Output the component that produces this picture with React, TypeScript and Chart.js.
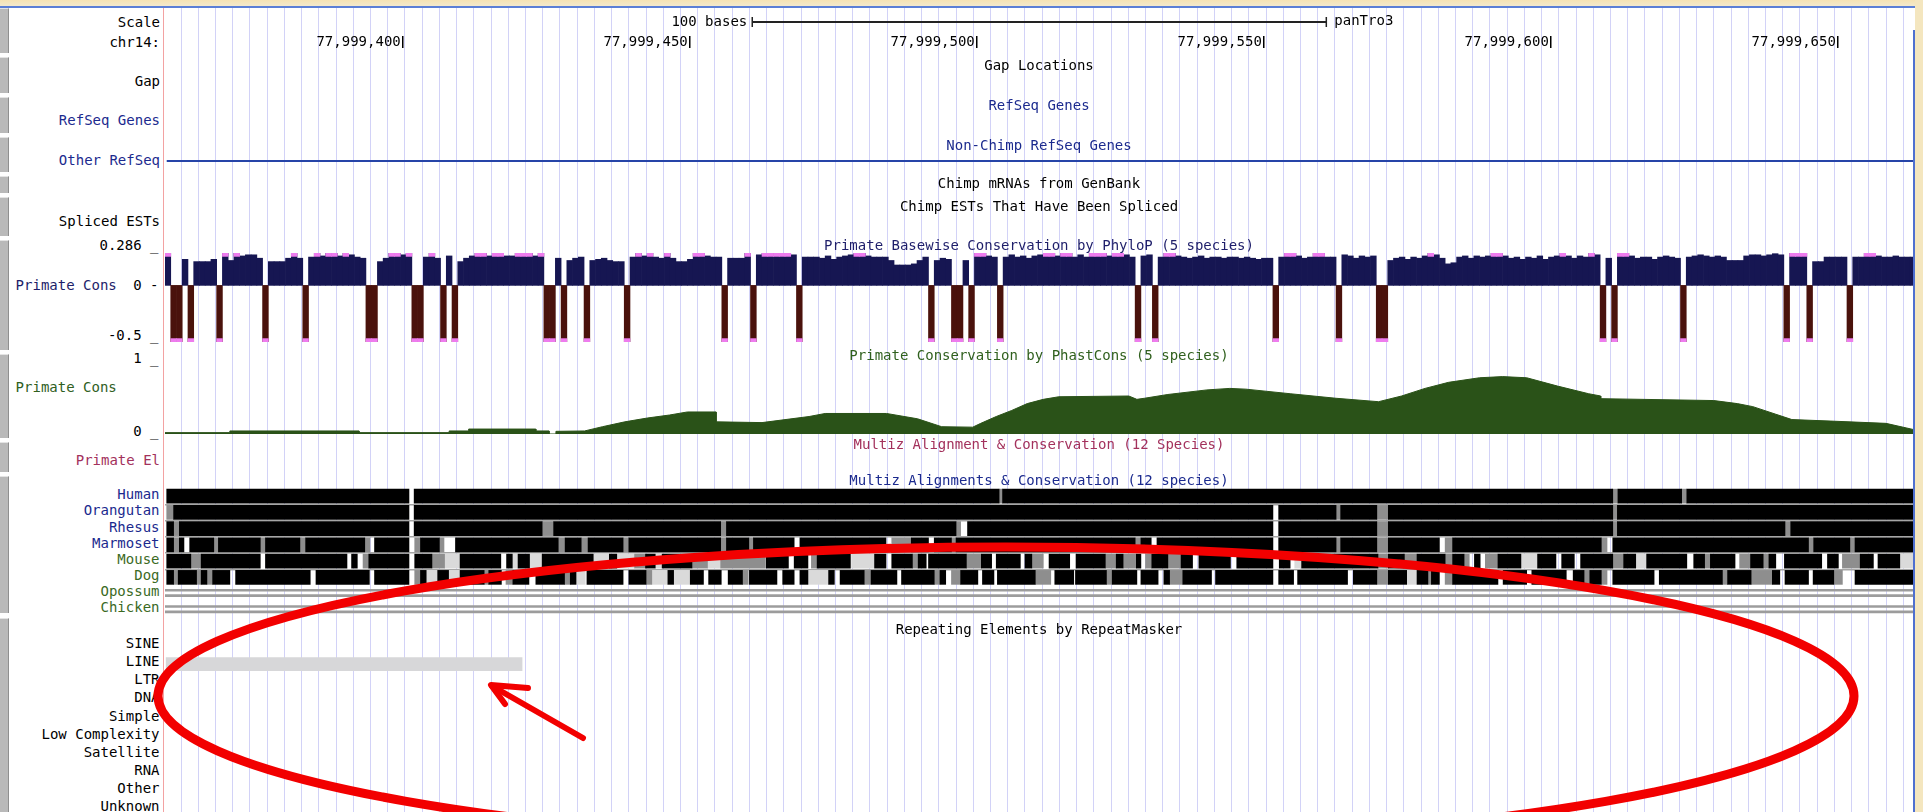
import React, { useEffect, useRef } from 'react';
import { Chart, registerables } from 'chart.js';

Chart.register(...registerables);

// ======================= DATA =======================
const CHROM_LABEL = 'chr14:';
const ASSEMBLY = 'panTro3';
const START = 77999359; // genome position of base offset 0
const VIEW_BASES = 304.5; // bases visible in the window
const RULER_TICKS = [77999400, 77999450, 77999500, 77999550, 77999600, 77999650];
const SCALE_BAR_FROM = 102.3; // base offset where the scale bar starts
const SCALE_BAR_BASES = 100;
const GUIDE_FIRST = 2.8; // first guideline (base offset)
const GUIDE_STEP = 3; // bases between guidelines

// PhyloP (5 species) per-base runs: [fromBase, toBase, value]
const PHYLOP_MIN = -0.5;
const PHYLOP_MAX = 0.286;
const PHYLOP_RUNS: [number, number, number][] = [
  [0, 0, 0.29], [1, 2, -0.5], [3, 3, 0.23], [4, 4, -0.5], [5, 7, 0.21], [8, 8, 0.23], [9, 9, -0.5],
  [10, 10, 0.29], [11, 11, 0.22], [12, 12, 0.29], [13, 13, 0.26], [14, 15, 0.27], [16, 16, 0.24], [17, 17, -0.5],
  [18, 20, 0.21], [21, 21, 0.24], [22, 22, 0.29], [23, 23, 0.24], [24, 24, -0.5],
  [25, 25, 0.25], [26, 26, 0.29], [27, 27, 0.26], [28, 29, 0.29], [30, 30, 0.26], [31, 31, 0.29], [32, 32, 0.27],
  [33, 33, 0.25], [34, 34, 0.24], [35, 36, -0.5],
  [37, 37, 0.21], [38, 38, 0.24], [39, 40, 0.29], [41, 41, 0.27], [42, 42, 0.29], [43, 44, -0.5],
  [45, 45, 0.25], [46, 46, 0.29], [47, 47, 0.24], [48, 48, -0.5], [49, 49, 0.26], [50, 50, -0.5],
  [51, 51, 0.21], [52, 52, 0.24], [53, 53, 0.26], [54, 55, 0.29], [56, 56, 0.26], [57, 58, 0.29], [59, 60, 0.26],
  [61, 63, 0.29], [64, 64, 0.26], [65, 65, 0.29], [66, 67, -0.5],
  [68, 68, 0.24], [69, 69, -0.5], [70, 70, 0.22], [71, 71, 0.24], [72, 72, 0.25], [73, 73, -0.5],
  [74, 74, 0.22], [75, 75, 0.23], [76, 76, 0.24], [77, 77, 0.22], [78, 79, 0.21], [80, 80, -0.5],
  [81, 81, 0.25], [82, 82, 0.29], [83, 83, 0.26], [84, 84, 0.29], [85, 85, 0.25], [86, 86, 0.24], [87, 87, 0.29],
  [88, 88, 0.24], [89, 90, 0.21], [91, 91, 0.23], [92, 93, 0.29], [94, 94, 0.26], [95, 96, 0.25], [97, 97, -0.5],
  [98, 100, 0.24], [101, 101, 0.29], [102, 102, -0.5], [103, 103, 0.27], [104, 108, 0.29], [109, 109, 0.27], [110, 110, -0.5],
  [111, 113, 0.25], [114, 114, 0.24], [115, 115, 0.26], [116, 116, 0.23], [117, 117, 0.25], [118, 118, 0.26],
  [119, 119, 0.27], [120, 121, 0.29], [122, 122, 0.26], [123, 125, 0.25], [126, 126, 0.22], [127, 129, 0.18],
  [130, 130, 0.19], [131, 131, 0.22], [132, 132, 0.25], [133, 133, -0.5],
  [134, 134, 0.22], [135, 135, 0.24], [136, 136, 0.23], [137, 138, -0.5], [139, 139, 0.22], [140, 140, -0.5],
  [141, 142, 0.29], [143, 143, 0.26], [144, 144, 0.25], [145, 145, -0.5],
  [146, 146, 0.25], [147, 147, 0.27], [148, 148, 0.25], [149, 149, 0.26], [150, 150, 0.24], [151, 151, 0.26],
  [152, 152, 0.27], [153, 154, 0.29], [155, 155, 0.26], [156, 157, 0.29], [158, 158, 0.25], [159, 159, 0.27],
  [160, 160, 0.25], [161, 163, 0.29], [164, 164, 0.26], [165, 166, 0.29], [167, 167, 0.27], [168, 168, 0.25], [169, 169, -0.5],
  [170, 170, 0.26], [171, 171, 0.27], [172, 172, -0.5], [173, 173, 0.25], [174, 175, 0.29],
  [176, 176, 0.26], [177, 177, 0.25], [178, 178, 0.24], [179, 179, 0.25], [180, 180, 0.26], [181, 181, 0.24],
  [182, 183, 0.25], [184, 184, 0.24], [185, 186, 0.25], [187, 187, 0.24], [188, 188, 0.25], [189, 189, 0.24],
  [190, 190, 0.23], [191, 192, 0.24], [193, 193, -0.5],
  [194, 194, 0.25], [195, 196, 0.29], [197, 197, 0.26], [198, 198, 0.24], [199, 199, 0.25], [200, 201, 0.29],
  [202, 203, 0.25], [204, 204, -0.5],
  [205, 205, 0.27], [206, 206, 0.26], [207, 207, 0.24], [208, 208, 0.26], [209, 209, 0.25], [210, 210, 0.26], [211, 212, -0.5],
  [213, 213, 0.22], [214, 214, 0.24], [215, 215, 0.25], [216, 216, 0.23], [217, 217, 0.25], [218, 218, 0.24],
  [219, 219, 0.26], [220, 220, 0.29], [221, 221, 0.27], [222, 222, 0.24], [223, 223, 0.19], [224, 224, 0.2],
  [225, 225, 0.25], [226, 226, 0.26], [227, 227, 0.24], [228, 228, 0.26], [229, 229, 0.25], [230, 230, 0.26],
  [231, 232, 0.29], [233, 233, 0.26], [234, 234, 0.24], [235, 235, 0.25], [236, 236, 0.23], [237, 237, 0.25],
  [238, 238, 0.24], [239, 239, 0.26], [240, 240, 0.23], [241, 241, 0.25], [242, 242, 0.26], [243, 243, 0.29],
  [244, 244, 0.26], [245, 245, 0.24], [246, 246, 0.26], [247, 247, 0.25], [248, 248, 0.29], [249, 249, 0.27], [250, 250, -0.5],
  [251, 251, 0.24], [252, 252, -0.5], [253, 254, 0.29], [255, 255, 0.26], [256, 256, 0.24], [257, 258, 0.25],
  [259, 259, 0.23], [260, 260, 0.25], [261, 261, 0.26], [262, 262, 0.25], [263, 263, 0.24], [264, 264, -0.5],
  [265, 265, 0.25], [266, 266, 0.26], [267, 267, 0.27], [268, 268, 0.26], [269, 269, 0.25], [270, 270, 0.26],
  [271, 271, 0.25], [272, 274, 0.22], [275, 275, 0.26], [276, 277, 0.27], [278, 278, 0.26], [279, 279, 0.27],
  [280, 280, 0.28], [281, 281, 0.27], [282, 282, -0.5],
  [283, 285, 0.29], [286, 286, -0.5], [287, 288, 0.21], [289, 292, 0.25], [293, 293, -0.5], [294, 295, 0.25],
  [296, 297, 0.29], [298, 298, 0.26], [299, 300, 0.25], [301, 301, 0.26], [302, 304, 0.25],
];

// PhastCons (5 species): [baseOffset, score]
const PHASTCONS_POINTS: [number, number][] = [
  [0, 0.018], [11.3, 0.018], [11.3, 0.04], [33.8, 0.04], [33.8, 0.018], [49.5, 0.018], [49.5, 0.04],
  [52.9, 0.04], [52.9, 0.065], [64.6, 0.065], [64.6, 0.04], [66.9, 0.04], [66.9, 0], [68.1, 0], [68.1, 0.035],
  [73.1, 0.04], [76.2, 0.096], [80.1, 0.16], [84, 0.21], [87.9, 0.25], [91, 0.29], [96, 0.29], [96, 0.16],
  [104, 0.15], [112.2, 0.23], [115, 0.27], [125.7, 0.27], [131.1, 0.2], [135.3, 0.096], [140.7, 0.09],
  [142.1, 0.14], [144.8, 0.23], [147.5, 0.31], [150.2, 0.4], [153, 0.456], [155.7, 0.49], [167.9, 0.5],
  [169.3, 0.456], [170.6, 0.47], [174.7, 0.52], [181.5, 0.58], [185.5, 0.6], [188.3, 0.59], [196, 0.53],
  [204, 0.47], [211.4, 0.425], [215.4, 0.5], [219.5, 0.6], [223.6, 0.68], [229, 0.74], [233, 0.755],
  [237.2, 0.74], [242.6, 0.63], [248, 0.53], [250.1, 0.5], [250.1, 0.465], [269.8, 0.44], [273.9, 0.4],
  [276.6, 0.36], [280.6, 0.26], [283.4, 0.19], [290.2, 0.17], [299.8, 0.14], [304.5, 0.06],
];

// Non-chimp RefSeq gene spanning the window (base offsets)
const OTHER_REFSEQ_SPAN: [number, number] = [0.3, 304.5];

// Multiz alignment blocks: [fromBase, toBase, shade] k = aligned, g = partly, l = weak
type Block = [number, number, 'k' | 'g' | 'l'];
const SPECIES = ['Human', 'Orangutan', 'Rhesus', 'Marmoset', 'Mouse', 'Dog', 'Opossum', 'Chicken'];
const UNALIGNED_SPECIES = ['Opossum', 'Chicken'];
const HUMAN: Block[] = [
  [0.3, 42.5, 'k'], [43.4, 145.3, 'k'], [145.3, 145.9, 'g'], [145.9, 252.2, 'k'], [252.2, 253.1, 'g'],
  [253.1, 264.2, 'k'], [264.2, 265.1, 'g'], [265.1, 304.5, 'k'],
];
const ORANGUTAN: Block[] = [
  [0.3, 1.5, 'g'], [1.5, 42.5, 'k'], [43.4, 193, 'k'], [194, 204, 'k'], [204, 204.8, 'g'], [204.8, 211.1, 'k'],
  [211.1, 213.1, 'g'], [213.1, 252.2, 'k'], [252.2, 253, 'g'], [253, 304.5, 'k'],
];
const RHESUS: Block[] = [
  [0.3, 1.5, 'k'], [1.5, 2.5, 'g'], [2.5, 42.5, 'k'], [43.4, 65.7, 'k'], [65.7, 67.7, 'g'], [67.7, 96.8, 'k'],
  [96.8, 97.8, 'g'], [97.8, 137.8, 'k'], [137.8, 138.6, 'g'], [139.8, 193, 'k'], [194, 211.1, 'k'],
  [211.1, 213.1, 'g'], [213.1, 252.2, 'k'], [252.2, 253, 'g'], [253, 282.2, 'k'], [282.2, 283.2, 'g'], [283.2, 304.5, 'k'],
];
const MARMOSET: Block[] = [
  [0.3, 1.5, 'k'], [1.5, 2.5, 'g'], [2.5, 3.3, 'k'], [4.3, 8.5, 'k'], [8.5, 9.3, 'g'], [9.3, 16.6, 'k'],
  [16.6, 17.5, 'g'], [17.5, 23.5, 'k'], [23.5, 24.5, 'g'], [24.5, 34.8, 'k'], [34.8, 35.7, 'g'], [36.5, 42.5, 'k'],
  [43.5, 44.5, 'g'], [44.5, 47.8, 'k'], [47.8, 48.6, 'g'], [50.6, 68.5, 'k'], [68.5, 69.7, 'g'], [69.7, 72.5, 'k'],
  [72.5, 73.7, 'g'], [73.7, 79.8, 'k'], [79.8, 80.8, 'g'], [80.8, 96.8, 'k'], [96.8, 97.8, 'g'], [97.8, 101.7, 'k'],
  [101.7, 102.5, 'g'], [102.5, 109.6, 'k'], [110.6, 125.6, 'k'], [126.6, 130, 'g'], [130, 133, 'k'], [134, 137, 'k'],
  [137, 137.8, 'g'], [137.8, 169, 'k'], [169, 170, 'g'], [170, 171.8, 'k'], [172.8, 193, 'k'], [194, 204, 'k'],
  [204, 204.8, 'g'], [204.8, 211.1, 'k'], [211.1, 213.1, 'g'], [213.1, 222, 'k'], [223, 224.3, 'g'],
  [224.3, 250.2, 'k'], [250.2, 251.2, 'g'], [252.2, 286.3, 'k'], [286.3, 287.2, 'g'], [287.2, 293.5, 'k'],
  [293.5, 294.4, 'g'], [294.4, 304.5, 'k'],
];
const MOUSE: Block[] = [
  [0.3, 4.5, 'k'], [4.5, 6.3, 'g'], [6.3, 16.6, 'k'], [17.5, 31.7, 'k'], [32.5, 33.5, 'k'], [34.5, 35.5, 'g'],
  [35.5, 42.5, 'k'], [43.5, 46.5, 'k'], [46.5, 48.7, 'g'], [48.7, 51.4, 'l'], [51.4, 58.5, 'k'], [59.5, 60.5, 'k'],
  [60.5, 61.5, 'l'], [61.5, 63.5, 'k'], [63.5, 65.7, 'l'], [65.7, 74.6, 'k'], [74.6, 77.4, 'l'], [77.4, 78.7, 'k'],
  [78.7, 81.8, 'l'], [81.8, 83.7, 'g'], [83.7, 85.4, 'k'], [85.4, 86.6, 'l'], [86.6, 91.8, 'k'], [91.8, 94.5, 'g'],
  [94.5, 96.8, 'l'], [96.8, 104.5, 'g'], [104.7, 108.6, 'k'], [109.6, 112, 'k'], [112.6, 113.6, 'g'],
  [113.6, 119.4, 'k'], [119.6, 123.5, 'l'], [123.6, 125.6, 'k'], [126.6, 130.2, 'k'], [130.2, 131.2, 'g'],
  [131.2, 132.6, 'k'], [133, 139.6, 'k'], [139.6, 142.2, 'g'], [142.2, 144, 'k'], [144.8, 149, 'k'],
  [149.8, 151, 'k'], [151, 153, 'g'], [154, 157.6, 'k'], [158.7, 163.8, 'k'], [163.8, 165.7, 'g'],
  [165.7, 166.9, 'k'], [166.9, 169.2, 'g'], [169.2, 170, 'k'], [170.8, 171.9, 'g'], [171.9, 174.7, 'k'],
  [174.7, 177, 'g'], [177, 179, 'k'], [180.1, 185.6, 'k'], [186.7, 193, 'k'], [194.1, 196, 'k'], [196.8, 198, 'l'],
  [198, 211.3, 'k'], [211.3, 213.1, 'g'], [213.1, 215.9, 'k'], [215.9, 218.1, 'g'], [218.1, 223, 'k'],
  [223, 224.3, 'g'], [224.3, 226.3, 'k'], [226.3, 227.2, 'g'], [228.1, 229.1, 'k'], [230, 232.2, 'g'],
  [232.2, 236.2, 'k'], [236.2, 239.1, 'l'], [239.1, 242.3, 'k'], [243.3, 245.5, 'k'], [246.6, 252.2, 'k'],
  [252.2, 254.1, 'g'], [254.1, 256.2, 'k'], [256.2, 258.1, 'l'], [258.1, 265.1, 'k'], [266.3, 268.2, 'k'],
  [268.2, 269.2, 'g'], [269.2, 273.5, 'k'], [274.3, 276.2, 'g'], [276.2, 278.4, 'k'], [278.4, 279.4, 'g'],
  [279.4, 280.6, 'k'], [282.1, 288.6, 'k'], [289.6, 291.5, 'k'], [292.2, 295.3, 'g'], [295.3, 297.6, 'k'],
  [298.4, 302.2, 'k'], [302.2, 304.5, 'l'],
];
const DOG: Block[] = [
  [0.3, 1.5, 'k'], [1.5, 2.3, 'g'], [2.3, 5.5, 'k'], [5.5, 6.3, 'g'], [6.3, 7.3, 'k'], [7.3, 8.3, 'g'],
  [8.3, 11.3, 'k'], [12.3, 25.3, 'k'], [26.3, 35.6, 'k'], [36.5, 42.5, 'k'], [43.5, 44.5, 'g'], [44.5, 45.5, 'k'],
  [45.5, 47.5, 'l'], [47.5, 49.4, 'k'], [49.4, 51.4, 'l'], [51.4, 55.6, 'k'], [55.6, 56.4, 'g'], [56.4, 58.6, 'k'],
  [59.4, 60.6, 'g'], [60.6, 63.4, 'k'], [64.6, 69.6, 'k'], [69.6, 70.6, 'g'], [70.6, 71.6, 'k'], [71.6, 73.2, 'l'],
  [73.5, 79.8, 'k'], [80.8, 83.8, 'k'], [83.8, 84.8, 'g'], [84.8, 87.6, 'l'], [87.6, 88.6, 'k'], [88.6, 91.5, 'l'],
  [91.5, 93.8, 'k'], [94.7, 96.9, 'k'], [98.1, 100.6, 'k'], [100.6, 101.6, 'g'], [101.8, 106.6, 'k'],
  [107.6, 109.6, 'k'], [110.6, 112, 'k'], [112, 115.6, 'l'], [115.6, 116.6, 'k'], [117.6, 121.8, 'k'],
  [121.8, 123, 'g'], [123, 127.5, 'k'], [128.3, 134, 'k'], [134, 135, 'g'], [135, 136, 'k'], [137, 138.6, 'g'],
  [138.6, 141.6, 'k'], [142.4, 144.4, 'k'], [145, 151.6, 'k'], [151.6, 154.3, 'g'], [155, 158.3, 'k'],
  [158.6, 164, 'k'], [164, 165, 'g'], [165, 169.3, 'k'], [170, 173, 'k'], [174, 175, 'k'], [175, 177.3, 'g'],
  [177.3, 182.3, 'k'], [183, 193, 'k'], [194, 196.6, 'k'], [197.3, 206, 'k'], [207, 211.1, 'k'],
  [211.1, 213.1, 'g'], [213.1, 216.3, 'k'], [216.3, 218.1, 'l'], [218.1, 220, 'k'], [220, 220.6, 'g'],
  [220.6, 222, 'k'], [223, 224.3, 'g'], [224.3, 232.2, 'k'], [233.1, 237.2, 'k'], [238.1, 244.1, 'k'],
  [245.3, 247.2, 'k'], [247.2, 248.2, 'g'], [248.2, 250.2, 'k'], [250.2, 251.2, 'g'], [252.2, 259.4, 'k'],
  [260.3, 271.3, 'k'], [271.3, 272.2, 'g'], [272.2, 276.3, 'k'], [276.3, 280, 'g'], [280, 281.3, 'k'],
  [282.2, 286.3, 'k'], [287.1, 290.7, 'k'], [290.7, 292.2, 'g'], [294.4, 304.5, 'k'],
];
const MULTIZ_BLOCKS: Record<string, Block[]> = {
  Human: HUMAN, Orangutan: ORANGUTAN, Rhesus: RHESUS, Marmoset: MARMOSET, Mouse: MOUSE, Dog: DOG,
};

// RepeatMasker
const REPEAT_CLASSES = ['SINE', 'LINE', 'LTR', 'DNA', 'Simple', 'Low Complexity', 'Satellite', 'RNA', 'Other', 'Unknown'];
const REPEATS: [string, number, number][] = [['LINE', 0.2, 62.2]];

// ======================= LAYOUT / STYLE =======================
const W = 1923;
const H = 812;
const DATA_LEFT = 165;
const DATA_RIGHT = 1913;
const DATA_W = DATA_RIGHT - DATA_LEFT;
const FONT = '"DejaVu Sans Mono", monospace';
const NAVY = '#1b2a8e';
const DARKNAVY = '#1e1e6a';
const GREEN = '#30601e';
const MAROON = '#a3315c';

const PHYLO_BOX = { top: 253, height: 89 };
const PHAST_BOX = { top: 358, height: 76 };
const MULTIZ_BOX = { top: 488, height: 130 };
const REPEAT_BOX = { top: 637, height: 181 };
const REFSEQ_BOX = { top: 155, height: 12 };

const fmt = (n: number) => String(n).replace(/\B(?=(\d{3})+(?!\d))/g, ',');

const rulerPlugin = {
  id: 'ruler',
  afterDraw(chart: any) {
    const { ctx } = chart;
    const xs = chart.scales.x;
    ctx.save();
    ctx.font = '14px "DejaVu Sans Mono"';
    ctx.fillStyle = '#000';
    ctx.strokeStyle = '#222';
    ctx.textBaseline = 'middle';
    const yBar = 14;
    const x0 = xs.getPixelForValue(SCALE_BAR_FROM);
    const x1 = xs.getPixelForValue(SCALE_BAR_FROM + SCALE_BAR_BASES);
    ctx.lineWidth = 2;
    ctx.beginPath();
    ctx.moveTo(x0, yBar);
    ctx.lineTo(x1, yBar);
    ctx.stroke();
    ctx.lineWidth = 1.5;
    ctx.beginPath();
    ctx.moveTo(x0, yBar - 5);
    ctx.lineTo(x0, yBar + 5);
    ctx.moveTo(x1, yBar - 5);
    ctx.lineTo(x1, yBar + 5);
    ctx.stroke();
    ctx.textAlign = 'right';
    ctx.fillText(`${SCALE_BAR_BASES} bases`, x0 - 5, yBar);
    ctx.textAlign = 'left';
    ctx.fillText(ASSEMBLY, x1 + 8, yBar - 1);
    const yTick = 34;
    RULER_TICKS.forEach((p) => {
      const px = xs.getPixelForValue(p - START + 0.5);
      ctx.fillRect(Math.round(px) - 1, yTick - 6, 1.5, 12);
      ctx.textAlign = 'right';
      ctx.fillText(fmt(p), px - 2.5, yTick);
    });
    ctx.restore();
  },
};

const baseOptions = (scales: any, extra: any = {}) => ({
  responsive: false,
  animation: false,
  events: [],
  layout: { padding: 0 },
  plugins: { legend: { display: false }, tooltip: { enabled: false } },
  scales,
  ...extra,
});

const hiddenX = { type: 'linear', min: 0, max: VIEW_BASES, display: false, offset: false, grid: { offset: false } };
const hiddenY = (min: number, max: number, extra: any = {}) => ({
  type: 'linear', min, max, display: false, offset: false, grid: { offset: false }, ...extra,
});

const GUIDES: number[] = [];
for (let v = GUIDE_FIRST; v < VIEW_BASES; v += GUIDE_STEP) GUIDES.push(v);

export default function App() {
  const bgRef = useRef<HTMLCanvasElement>(null);
  const refseqRef = useRef<HTMLCanvasElement>(null);
  const phyloRef = useRef<HTMLCanvasElement>(null);
  const phastRef = useRef<HTMLCanvasElement>(null);
  const multizRef = useRef<HTMLCanvasElement>(null);
  const repeatRef = useRef<HTMLCanvasElement>(null);

  useEffect(() => {
    document.body.style.margin = '0';
    const charts: Chart[] = [];

    // background guidelines + ruler
    charts.push(
      new Chart(bgRef.current!, {
        type: 'scatter',
        data: { datasets: [] },
        options: baseOptions({
          x: {
            type: 'linear', min: 0, max: VIEW_BASES, display: true, offset: false,
            ticks: { display: false }, border: { display: false },
            grid: { color: '#d2d2f7', lineWidth: 1, drawTicks: false, offset: false },
            afterBuildTicks: (s: any) => { s.ticks = GUIDES.map((v) => ({ value: v })); },
          },
          y: hiddenY(0, 1),
        }),
        plugins: [rulerPlugin],
      } as any)
    );

    // Other RefSeq line
    charts.push(
      new Chart(refseqRef.current!, {
        type: 'line',
        data: {
          datasets: [{
            data: OTHER_REFSEQ_SPAN.map((x) => ({ x, y: 0 })),
            borderColor: '#2644a8', borderWidth: 2, pointRadius: 0,
          }],
        },
        options: baseOptions({ x: hiddenX, y: hiddenY(-1, 1) }),
      } as any)
    );

    // PhyloP
    const phylo: { x: number; y: number }[] = [];
    PHYLOP_RUNS.forEach(([a, b, v]) => { for (let i = a; i <= b; i++) phylo.push({ x: i + 0.5, y: v }); });
    const caps = phylo
      .filter((p) => p.y >= PHYLOP_MAX || p.y <= PHYLOP_MIN)
      .map((p) => ({ x: p.x, y: p.y > 0 ? [PHYLOP_MAX - 0.03, PHYLOP_MAX] : [PHYLOP_MIN, PHYLOP_MIN + 0.03] }));
    charts.push(
      new Chart(phyloRef.current!, {
        type: 'bar',
        data: {
          datasets: [
            { data: caps, backgroundColor: '#ee7cee', grouped: false, categoryPercentage: 1, barPercentage: 1, borderWidth: 0 },
            {
              data: phylo,
              backgroundColor: (c: any) => (c.raw && c.raw.y < 0 ? '#4a120c' : '#161652'),
              grouped: false, categoryPercentage: 1, barPercentage: 1, borderWidth: 0,
            },
          ],
        },
        options: baseOptions({ x: hiddenX, y: hiddenY(PHYLOP_MIN, PHYLOP_MAX) }),
      } as any)
    );

    // PhastCons
    charts.push(
      new Chart(phastRef.current!, {
        type: 'line',
        data: {
          datasets: [{
            data: PHASTCONS_POINTS.map(([x, y]) => ({ x, y })),
            borderColor: '#2a5218', backgroundColor: '#2a5218', borderWidth: 1,
            fill: 'origin', pointRadius: 0, tension: 0,
          }],
        },
        options: baseOptions({ x: hiddenX, y: hiddenY(0, 1) }),
      } as any)
    );

    // Multiz alignments
    const shadeColor: Record<string, string> = { k: '#000000', g: '#8e8e8e', l: '#dadada' };
    const shadeSets = ['k', 'g', 'l'].map((sh) => ({
      data: Object.entries(MULTIZ_BLOCKS).flatMap(([sp, blocks]) =>
        blocks.filter((b) => b[2] === sh).map((b) => ({ y: SPECIES.indexOf(sp), x: [b[0], b[1]] }))
      ),
      backgroundColor: shadeColor[sh], grouped: false, barThickness: 14, borderWidth: 0,
    }));
    const unaligned = {
      data: UNALIGNED_SPECIES.flatMap((sp) => {
        const r = SPECIES.indexOf(sp);
        return [{ y: r - 0.21, x: [0, VIEW_BASES] }, { y: r + 0.12, x: [0, VIEW_BASES] }];
      }),
      backgroundColor: '#9c9c9c', grouped: false, barThickness: 2, borderWidth: 0,
    };
    const aligned = SPECIES.filter((s) => !UNALIGNED_SPECIES.includes(s));
    const separators = aligned.slice(0, -1).map((_, i) => i + 0.5);
    charts.push(
      new Chart(multizRef.current!, {
        type: 'bar',
        data: { datasets: [...shadeSets, unaligned] },
        options: baseOptions(
          {
            x: hiddenX,
            y: {
              type: 'linear', min: -0.5, max: SPECIES.length - 0.5, reverse: true, display: true, offset: false,
              ticks: { display: false }, border: { display: false },
              grid: { color: '#a6a6a6', lineWidth: 1.5, drawTicks: false, offset: false },
              afterBuildTicks: (s: any) => { s.ticks = separators.map((v) => ({ value: v })); },
            },
          },
          { indexAxis: 'y' }
        ),
      } as any)
    );

    // RepeatMasker
    charts.push(
      new Chart(repeatRef.current!, {
        type: 'bar',
        data: {
          datasets: [{
            data: REPEATS.map(([cls, a, b]) => ({ y: REPEAT_CLASSES.indexOf(cls), x: [a, b] })),
            backgroundColor: '#d7d7d9', grouped: false, barThickness: 13, borderWidth: 0,
          }],
        },
        options: baseOptions(
          { x: hiddenX, y: hiddenY(-0.5, REPEAT_CLASSES.length - 0.5, { reverse: true }) },
          { indexAxis: 'y' }
        ),
      } as any)
    );

    return () => charts.forEach((c) => c.destroy());
  }, []);

  const txt = (key: string, text: string, y: number, color: string, align: 'right' | 'left' | 'center', x?: number) => {
    const style: any = {
      position: 'absolute', top: y - 8, height: 16, lineHeight: '16px', whiteSpace: 'pre', color,
      fontFamily: FONT, fontSize: 14,
    };
    if (align === 'right') { style.left = 0; style.width = x ?? 160; style.textAlign = 'right'; }
    else if (align === 'left') { style.left = x ?? 0; }
    else { style.left = DATA_LEFT; style.width = DATA_W; style.textAlign = 'center'; }
    return <div key={key} style={style}>{text}</div>;
  };

  const leftLabels: [string, number, string][] = [
    ['Scale', 22, '#000'], [CHROM_LABEL, 42, '#000'], ['Gap', 81, '#000'], ['RefSeq Genes', 120, NAVY],
    ['Other RefSeq', 160, NAVY], ['Spliced ESTs', 221, '#000'], ['Primate El', 460, MAROON],
  ];
  const axisLabels: [string, number][] = [['0.286 _', 245], ['0 -', 285], ['-0.5 _', 335], ['1 _', 358], ['0 _', 431]];
  const centerTitles: [string, number, string][] = [
    ['Gap Locations', 65, '#000'], ['RefSeq Genes', 105, NAVY], ['Non-Chimp RefSeq Genes', 145, NAVY],
    ['Chimp mRNAs from GenBank', 183, '#000'], ['Chimp ESTs That Have Been Spliced', 206, '#000'],
    ['Primate Basewise Conservation by PhyloP (5 species)', 245, DARKNAVY],
    ['Primate Conservation by PhastCons (5 species)', 355, GREEN],
    ['Multiz Alignment & Conservation (12 Species)', 444, MAROON],
    ['Multiz Alignments & Conservation (12 species)', 480, NAVY],
    ['Repeating Elements by RepeatMasker', 629, '#000'],
  ];
  const speciesColor = (s: string) => (['Mouse', 'Dog', 'Opossum', 'Chicken'].includes(s) ? '#3b6a1f' : NAVY);
  const buttons: [number, number][] = [
    [8, 53], [57, 93], [97, 133], [137, 172], [176, 193], [197, 236], [240, 350], [354, 438], [442, 472], [476, 613], [618, 812],
  ];

  const canvasStyle = (top: number): any => ({ position: 'absolute', left: DATA_LEFT, top });

  return (
    <div style={{ position: 'fixed', left: 0, top: 0, width: W, height: H, overflow: 'hidden', background: '#fff' }}>
      {/* top strip */}
      <div style={{ position: 'absolute', left: 0, top: 0, width: W, height: 6, background: 'linear-gradient(#f6e3b4,#f3e9cc)' }} />
      <div style={{ position: 'absolute', left: 0, top: 6, width: W, height: 2, background: '#5b7fd6' }} />
      {/* right strip */}
      <div style={{ position: 'absolute', left: 1915, top: 0, width: 8, height: H, background: '#f4e6bf' }} />
      <div style={{ position: 'absolute', left: 1913, top: 30, width: 2, height: H - 30, background: '#4f70d0' }} />
      {/* left buttons */}
      {buttons.map(([a, b], i) => (
        <div key={'b' + i} style={{
          position: 'absolute', left: 0, top: a, width: 9, height: b - a, background: '#b9b9b9',
          borderRight: '1px solid #8f8f8f', borderTop: '1px solid #e4e4e4', boxSizing: 'border-box',
        }} />
      ))}
      {/* red separator of label column */}
      <div style={{ position: 'absolute', left: 163, top: 8, width: 1, height: H - 8, background: '#f3a2a2' }} />

      <canvas ref={bgRef} width={DATA_W} height={H - 8} style={canvasStyle(8)} />
      <canvas ref={refseqRef} width={DATA_W} height={REFSEQ_BOX.height} style={canvasStyle(REFSEQ_BOX.top)} />
      <canvas ref={phyloRef} width={DATA_W} height={PHYLO_BOX.height} style={canvasStyle(PHYLO_BOX.top)} />
      <canvas ref={phastRef} width={DATA_W} height={PHAST_BOX.height} style={canvasStyle(PHAST_BOX.top)} />
      <canvas ref={multizRef} width={DATA_W} height={MULTIZ_BOX.height} style={canvasStyle(MULTIZ_BOX.top)} />
      <canvas ref={repeatRef} width={DATA_W} height={REPEAT_BOX.height} style={canvasStyle(REPEAT_BOX.top)} />

      {leftLabels.map(([t, y, c], i) => txt('l' + i, t, y, c, 'right', 160))}
      {axisLabels.map(([t, y], i) => txt('a' + i, t, y, '#000', 'right', 158.5))}
      {txt('pc1', 'Primate Cons', 285, DARKNAVY, 'left', 15.6)}
      {txt('pc2', 'Primate Cons', 386.5, GREEN, 'left', 15.6)}
      {SPECIES.map((s, i) => txt('s' + i, s, 494.3 + 16.15 * i, speciesColor(s), 'right', 159.5))}
      {REPEAT_CLASSES.map((s, i) => txt('r' + i, s, 643.3 + 18.06 * i, '#000', 'right', 159.5))}
      {centerTitles.map(([t, y, c], i) => txt('c' + i, t, y, c, 'center'))}

      {/* red annotation */}
      <svg width={W} height={H} style={{ position: 'absolute', left: 0, top: 0, pointerEvents: 'none' }}>
        <ellipse cx={1006} cy={696} rx={848} ry={149} fill="none" stroke="#f20000" strokeWidth={9} />
        <line x1={583} y1={738} x2={492} y2={686} stroke="#f20000" strokeWidth={6} strokeLinecap="round" />
        <polyline points="505,704 491,685 528,688" fill="none" stroke="#f20000" strokeWidth={6} strokeLinecap="round" strokeLinejoin="round" />
      </svg>
    </div>
  );
}
